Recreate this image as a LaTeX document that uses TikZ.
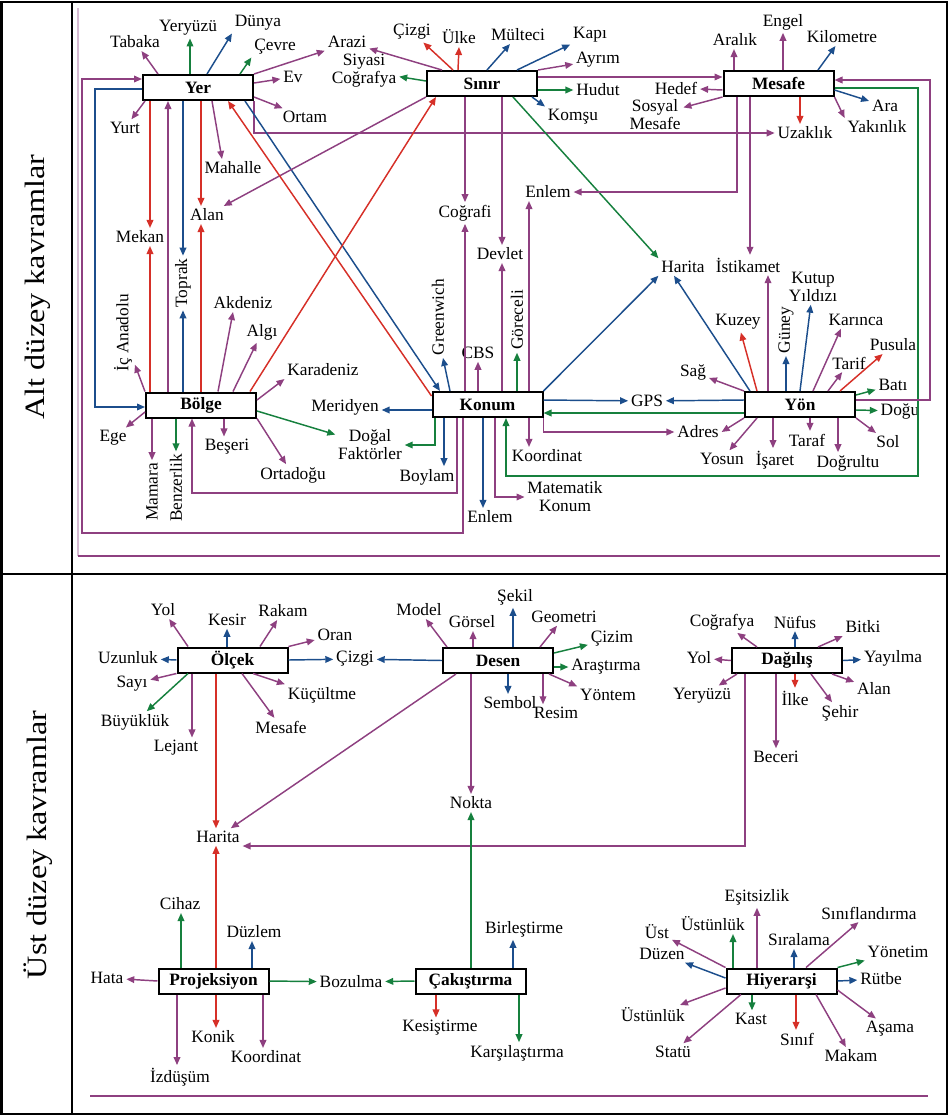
\documentclass[tikz,border=0pt]{standalone}
\usepackage{fontspec}
\setmainfont{Liberation Serif}
\usetikzlibrary{arrows.meta}
\definecolor{cmor}{RGB}{142,64,128}
\definecolor{ckir}{RGB}{214,48,40}
\definecolor{cmavi}{RGB}{28,78,140}
\definecolor{cyes}{RGB}{22,128,62}

\begin{document}
\begin{tikzpicture}[x=0.75pt,y=0.75pt,yscale=-1,xscale=1,
  kutu/.style={draw,line width=1.5pt,minimum width=82.5pt,minimum height=18.75pt,inner sep=0pt,font=\bfseries\fontsize{13}{15}\selectfont},
  etiket/.style={inner sep=2pt,align=center,font=\fontsize{13}{13.5}\selectfont},
  dik/.style={etiket,rotate=90},
  okuc/.style={line width=1.1pt,-{Triangle[length=6pt,width=5pt]}},
  morok/.style={okuc,color=cmor},
  kirok/.style={okuc,color=ckir},
  maviok/.style={okuc,color=cmavi},
  yesok/.style={okuc,color=cyes}]
\useasboundingbox (0,0) rectangle (948,1115);

%Table frame
\draw[line width=1.5pt] (1.5,1.5) rectangle (946.5,1113.5);
\draw[line width=1.5pt] (72,1.5) -- (72,1113.5);
\draw[line width=1.5pt] (1.5,574) -- (946.5,574);
\draw[cmor!35,line width=0.8pt] (78,8) -- (78,556);
\draw[cmor,line width=2.2pt] (78,556) -- (940,556);
\draw[cmor,line width=2.2pt] (90,1096) -- (928,1096);

% Column titles
\node[rotate=90,font=\fontsize{21}{24}\selectfont] (altkavram) at (38,287) {\scalebox{1.15}[1]{Alt düzey kavramlar}};
\node[rotate=90,font=\fontsize{21}{24}\selectfont] (ustkavram) at (38,845) {\scalebox{1.15}[1]{Üst düzey kavramlar}};

%%%%%%%%%%%%%%%% Alt duzey
% Boxes
\node[kutu] (yer) at (198,87.5) {Yer};
\node[kutu] (sinir) at (482,83.5) {Sınır};
\node[kutu] (mesafe) at (778.5,83.5) {Mesafe};
\node[kutu] (bolge) at (201,405) {Bölge};
\node[kutu] (konum) at (487.5,404.5) {Konum};
\node[kutu] (yon) at (800,404.5) {Yön};

% Text Nodes round Yer
\node[etiket] (tabaka) at (135,42) {Tabaka};
\node[etiket] (yeryuzuA) at (188,28) {Yeryüzü};
\node[etiket] (dunya) at (258,23) {Dünya};
\node[etiket] (cevre) at (275,47) {Çevre};
\node[etiket] (arazi) at (347,42) {Arazi};
\node[etiket] (ev) at (293,77) {Ev};
\node[etiket] (ortam) at (305,117) {Ortam};
\node[etiket] (yurt) at (125,128) {Yurt};
\node[etiket] (mahalle) at (233,168) {Mahalle};
\node[etiket] (mekan) at (140,237) {Mekan};
\node[dik] (toprak) at (183,283) {Toprak};
\node[etiket] (alan) at (207,215) {Alan};

% Text Nodes round Sinir
\node[etiket] (cizgiA) at (412,32) {Çizgi};
\node[etiket] (ulke) at (459,37) {Ülke};
\node[etiket] (multeci) at (518,35) {Mülteci};
\node[etiket] (kapi) at (590,35) {Kapı};
\node[etiket] (ayrim) at (598,60) {Ayrım};
\node[etiket] (siyasi) at (364,71) {Siyasi\\Coğrafya};
\node[etiket] (hudut) at (598,90) {Hudut};
\node[etiket] (komsu) at (573,117) {Komşu};
\node[etiket] (cografi) at (465,213) {Coğrafi};
\node[etiket] (devlet) at (500,254) {Devlet};
\node[etiket] (enlemA) at (548,192) {Enlem};
\node[etiket] (haritaA) at (683,267) {Harita};

% Text Nodes round Mesafe
\node[etiket] (aralik) at (735,40) {Aralık};
\node[etiket] (engel) at (783,22) {Engel};
\node[etiket] (kilometre) at (842,37) {Kilometre};
\node[etiket] (hedef) at (676,88) {Hedef};
\node[etiket] (sosyal) at (655,115) {Sosyal\\Mesafe};
\node[etiket] (ara) at (885,106) {Ara};
\node[etiket] (yakinlik) at (877,127) {Yakınlık};
\node[etiket] (uzaklik) at (805,133) {Uzaklık};
\node[etiket] (istikamet) at (748,265) {İstikamet};

% Text Nodes round Bolge
\node[dik] (icanadolu) at (123,333) {İç Anadolu};
\node[etiket] (ege) at (113,438) {Ege};
\node[dik] (mamara) at (152,492) {Mamara};
\node[dik] (benzerlik) at (176,488) {Benzerlik};
\node[etiket] (beseri) at (227,447) {Beşeri};
\node[etiket] (ortadogu) at (293,475) {Ortadoğu};
\node[etiket] (dogal) at (370,445) {Doğal\\Faktörler};
\node[etiket] (karadeniz) at (323,370) {Karadeniz};
\node[etiket] (akdeniz) at (243,303) {Akdeniz};
\node[etiket] (algi) at (262,332) {Algı};

% Text Nodes round Konum
\node[etiket] (meridyen) at (345,407) {Meridyen};
\node[etiket] (boylam) at (427,477) {Boylam};
\node[etiket] (enlemB) at (490,517) {Enlem};
\node[etiket] (matematik) at (565,497) {Matematik\\Konum};
\node[etiket] (koordinatA) at (547,456) {Koordinat};
\node[etiket] (adres) at (698,432) {Adres};
\node[etiket] (gps) at (647,401) {GPS};
\node[dik] (greenwich) at (438,317) {Greenwich};
\node[etiket] (cbs) at (478,353) {CBS};
\node[dik] (goreceli) at (517,320) {Göreceli};

% Text Nodes round Yon
\node[etiket] (kuzey) at (738,322) {Kuzey};
\node[dik] (guney) at (786,330) {Güney};
\node[etiket] (kutup) at (813,287) {Kutup\\Yıldızı};
\node[etiket] (karinca) at (856,320) {Karınca};
\node[etiket] (tarif) at (849,363) {Tarif};
\node[etiket] (pusula) at (893,345) {Pusula};
\node[etiket] (bati) at (893,385) {Batı};
\node[etiket] (dogu) at (900,411) {Doğu};
\node[etiket] (sol) at (888,442) {Sol};
\node[etiket] (dogrultu) at (848,463) {Doğrultu};
\node[etiket] (taraf) at (807,440) {Taraf};
\node[etiket] (isaret) at (775,460) {İşaret};
\node[etiket] (yosun) at (722,459) {Yosun};
\node[etiket] (sag) at (693,372) {Sağ};

%Straight Lines from Yer
\draw[morok] (158,0 |- yer.north) -- (tabaka);
\draw[yesok] (190,0 |- yer.north) -- (190,0 |- yeryuzuA.south);
\draw[maviok] (207,0 |- yer.north) -- (dunya.south west);
\draw[yesok] (240,0 |- yer.north) -- (cevre.south west);
\draw[morok] (yer.north east) -- (arazi.south west);
\draw[morok] (yer.east |- 0,83) -- (ev);
\draw[morok] (yer.east |- 0,97) -- (ortam);
\draw[morok] (145,0 |- yer.south) -- (yurt);
\draw[morok] (212,0 |- yer.south) -- (222,0 |- mahalle.north);
\draw[kirok] (150,0 |- yer.south) -- (150,0 |- mekan.north);
\draw[maviok] (183,0 |- yer.south) -- (183,0 |- toprak.east);
\draw[kirok] (201,0 |- yer.south) -- (201,0 |- alan.north);
\draw[morok] (yer.south east) |- (uzaklik.west);
\draw[maviok] (245,0 |- yer.south) -- (440,0 |- konum.north);
\draw[maviok] (yer.west |- 0,89) -- (95,89) -- (95,407) -- (bolge.west |- 0,407);

%Straight Lines from Sinir
\draw[morok] (442,0 |- sinir.north) -- (arazi);
\draw[kirok] (453,0 |- sinir.north) -- (cizgiA);
\draw[kirok] (458,0 |- sinir.north) -- (459,0 |- ulke.south);
\draw[maviok] (487,0 |- sinir.north) -- (multeci);
\draw[maviok] (517,0 |- sinir.north) -- (kapi);
\draw[morok] (sinir.north east) -- (ayrim);
\draw[yesok] (sinir.west |- 0,81) -- (siyasi);
\draw[yesok] (sinir.east |- 0,90) -- (hudut);
\draw[maviok] (532,0 |- sinir.south) -- (komsu.north west);
\draw[morok] (sinir.east |- 0,77) -- (mesafe.west |- 0,77);
\draw[morok] (sinir.south west) -- (alan);
\draw[morok] (465,0 |- sinir.south) -- (465,0 |- cografi.north);
\draw[morok] (502,0 |- sinir.south) -- (502,0 |- devlet.north);
\draw[yesok] (513,0 |- sinir.south) -- (haritaA.north west);

%Straight Lines from Mesafe
\draw[morok] (734,0 |- mesafe.north) -- (734,0 |- aralik.south);
\draw[morok] (783,0 |- mesafe.north) -- (783,0 |- engel.south);
\draw[maviok] (818,0 |- mesafe.north) -- (kilometre);
\draw[morok] (mesafe.west |- 0,90) -- (hedef);
\draw[morok] (mesafe.south west) -- (sosyal);
\draw[maviok] (mesafe.east |- 0,90) -- (ara);
\draw[morok] (mesafe.south east) -- (yakinlik.north west);
\draw[kirok] (800,0 |- mesafe.south) -- (800,0 |- uzaklik.north);
\draw[morok] (750,0 |- mesafe.south) -- (750,0 |- istikamet.north);
\draw[morok] (737,0 |- mesafe.south) |- (enlemA.east);
\draw[yesok] (mesafe.east |- 0,88) -- (918,88) -- (918,476) -- (506,476) -- (506,0 |- konum.south);

%Straight Lines from Bolge
\draw[morok] (168,0 |- bolge.north) -- (168,0 |- yer.south);
\draw[kirok] (150,0 |- bolge.north) -- (150,0 |- mekan.south);
\draw[maviok] (183,0 |- bolge.north) -- (183,0 |- toprak.west);
\draw[kirok] (201,0 |- bolge.north) -- (201,0 |- alan.south);
\draw[kirok] (250,0 |- bolge.north) -- (436,0 |- sinir.south);
\draw[morok] (bolge.north west) -- (icanadolu);
\draw[morok] (bolge.west |- 0,412) -- (ege);
\draw[morok] (152,0 |- bolge.south) -- (152,0 |- mamara.east);
\draw[yesok] (176,0 |- bolge.south) -- (176,0 |- benzerlik.east);
\draw[morok] (224,0 |- bolge.south) -- (224,0 |- beseri.north);
\draw[morok] (bolge.south east) -- (ortadogu);
\draw[yesok] (bolge.east |- 0,411) -- (dogal);
\draw[morok] (bolge.east |- 0,400) -- (karadeniz.south west);
\draw[morok] (218,0 |- bolge.north) -- (233,0 |- akdeniz.south);
\draw[morok] (233,0 |- bolge.north) -- (algi);

%Straight Lines from Konum
\draw[kirok] (konum.west |- 0,396) -- (228,0 |- yer.south);
\draw[morok] (463,0 |- konum.south) -- (463,533) -- (82,533) -- (82,79) -- (yer.west |- 0,79);
\draw[morok] (457,0 |- konum.south) -- (457,493) -- (192,493) -- (192,0 |- bolge.south);
\draw[maviok] (konum.west |- 0,410) -- (meridyen.east |- 0,410);
\draw[maviok] (444,0 |- konum.south) -- (444,0 |- boylam.north);
\draw[yesok] (435,0 |- konum.south) |- (dogal.east);
\draw[maviok] (483,0 |- konum.south) -- (483,0 |- enlemB.north);
\draw[morok] (495,0 |- konum.south) |- (matematik.west);
\draw[morok] (529,0 |- konum.south) -- (529,0 |- koordinatA.north);
\draw[morok] (konum.south east) |- (adres.west);
\draw[maviok] (konum.east |- 0,400) -- (gps);
\draw[maviok] (konum.north east) -- (haritaA.south west);
\draw[maviok] (450,0 |- konum.north) -- (443,0 |- greenwich.west);
\draw[morok] (478,0 |- konum.north) -- (478,0 |- cbs.south);
\draw[yesok] (517,0 |- konum.north) -- (517,0 |- goreceli.west);
\draw[morok] (465,0 |- konum.north) -- (465,0 |- cografi.south);
\draw[morok] (502,0 |- konum.north) -- (502,0 |- devlet.south);
\draw[morok] (529,0 |- konum.north) -- (529,0 |- enlemA.south);

%Straight Lines from Yon
\draw[maviok] (yon.west |- 0,400) -- (gps);
\draw[yesok] (yon.west |- 0,413) -- (konum.east |- 0,413);
\draw[morok] (yon.east |- 0,400) -- (930,400) -- (930,80) -- (mesafe.east |- 0,80);
\draw[maviok] (750,0 |- yon.north) -- (674,0 |- haritaA.south);
\draw[kirok] (757,0 |- yon.north) -- (kuzey);
\draw[morok] (768,0 |- yon.north) -- (768,0 |- istikamet.south);
\draw[maviok] (786,0 |- yon.north) -- (786,0 |- guney.west);
\draw[maviok] (800,0 |- yon.north) -- (kutup);
\draw[morok] (813,0 |- yon.north) -- (841,0 |- karinca.south);
\draw[morok] (828,0 |- yon.north) -- (tarif);
\draw[kirok] (840,0 |- yon.north) -- (pusula);
\draw[yesok] (yon.east |- 0,395) -- (bati);
\draw[yesok] (yon.east |- 0,410) -- (dogu);
\draw[morok] (yon.south east) -- (sol);
\draw[morok] (838,0 |- yon.south) -- (838,0 |- dogrultu.north);
\draw[morok] (810,0 |- yon.south) -- (810,0 |- taraf.north);
\draw[morok] (773,0 |- yon.south) -- (773,0 |- isaret.north);
\draw[morok] (757,0 |- yon.south) -- (yosun);
\draw[morok] (yon.south west) -- (adres.east);
\draw[morok] (yon.north west) -- (sag);

%%%%%%%%%%%%%%%% Ust duzey
% Boxes
\node[kutu] (olcek) at (232.5,660) {Ölçek};
\node[kutu] (desen) at (498,660.5) {Desen};
\node[kutu] (dagilis) at (787,660.5) {Dağılış};
\node[kutu] (projeksiyon) at (213.5,981) {Projeksiyon};
\node[kutu] (cakistirma) at (470.5,981) {Çakıştırma};
\node[kutu] (hiyerarsi) at (781.5,981) {Hiyerarşi};

% Text Nodes round Olcek
\node[etiket] (yolA) at (163,610) {Yol};
\node[etiket] (kesir) at (227,620) {Kesir};
\node[etiket] (rakam) at (283,611) {Rakam};
\node[etiket] (oran) at (335,635) {Oran};
\node[etiket] (uzunluk) at (128,658) {Uzunluk};
\node[etiket] (sayi) at (132,684) {Sayı};
\node[etiket] (buyukluk) at (135,722) {Büyüklük};
\node[etiket] (lejant) at (176,748) {Lejant};
\node[etiket] (kucultme) at (322,695) {Küçültme};
\node[etiket] (mesafeB) at (281,727) {Mesafe};
\node[etiket] (cizgiB) at (355,659) {Çizgi};
\node[etiket] (haritaB) at (218,837) {Harita};

% Text Nodes round Desen
\node[etiket] (model) at (419,610) {Model};
\node[etiket] (gorsel) at (472,622) {Görsel};
\node[etiket] (sekil) at (515,597) {Şekil};
\node[etiket] (geometri) at (564,617) {Geometri};
\node[etiket] (cizim) at (612,639) {Çizim};
\node[etiket] (arastirma) at (606,667) {Araştırma};
\node[etiket] (yontem) at (608,695) {Yöntem};
\node[etiket] (sembol) at (510,703) {Sembol};
\node[etiket] (resim) at (556,713) {Resim};
\node[etiket] (nokta) at (471,803) {Nokta};

% Text Nodes round Dagilis
\node[etiket] (cografya) at (722,622) {Coğrafya};
\node[etiket] (nufus) at (795,622) {Nüfus};
\node[etiket] (bitki) at (863,627) {Bitki};
\node[etiket] (yolB) at (699,658) {Yol};
\node[etiket] (yayilma) at (893,658) {Yayılma};
\node[etiket] (yeryuzuB) at (702,696) {Yeryüzü};
\node[etiket] (ilke) at (795,698) {İlke};
\node[etiket] (sehir) at (840,713) {Şehir};
\node[etiket] (alanB) at (874,689) {Alan};
\node[etiket] (beceri) at (776,757) {Beceri};

% Text Nodes round Projeksiyon
\node[etiket] (hata) at (107,978) {Hata};
\node[etiket] (cihaz) at (180,904) {Cihaz};
\node[etiket] (duzlem) at (254,932) {Düzlem};
\node[etiket] (bozulma) at (351,982) {Bozulma};
\node[etiket] (konik) at (213,1037) {Konik};
\node[etiket] (koordinatB) at (266,1057) {Koordinat};
\node[etiket] (izdusum) at (180,1077) {İzdüşüm};

% Text Nodes round Cakistirma
\node[etiket] (birlestirme) at (524,929) {Birleştirme};
\node[etiket] (kesistirme) at (440,1028) {Kesiştirme};
\node[etiket] (karsilastirma) at (517,1053) {Karşılaştırma};

% Text Nodes round Hiyerarsi
\node[etiket] (esitsizlik) at (757,897) {Eşitsizlik};
\node[etiket] (ustunlukA) at (713,924) {Üstünlük};
\node[etiket] (ust) at (657,932) {Üst};
\node[etiket] (duzen) at (662,954) {Düzen};
\node[etiket] (siralama) at (799,940) {Sıralama};
\node[etiket] (siniflandirma) at (869,913) {Sınıflandırma};
\node[etiket] (yonetim) at (898,952) {Yönetim};
\node[etiket] (rutbe) at (881,979) {Rütbe};
\node[etiket] (asama) at (890,1029) {Aşama};
\node[etiket] (makam) at (851,1056) {Makam};
\node[etiket] (sinif) at (797,1039) {Sınıf};
\node[etiket] (kast) at (751,1019) {Kast};
\node[etiket] (statu) at (673,1052) {Statü};
\node[etiket] (ustunlukB) at (653,1015) {Üstünlük};

%Straight Lines from Olcek
\draw[morok] (188,0 |- olcek.north) -- (yolA);
\draw[maviok] (227,0 |- olcek.north) -- (227,0 |- kesir.south);
\draw[morok] (260,0 |- olcek.north) -- (rakam);
\draw[morok] (olcek.north east) -- (oran);
\draw[maviok] (olcek.west) -- (uzunluk);
\draw[morok] (olcek.south west) -- (sayi);
\draw[yesok] (188,0 |- olcek.south) -- (buyukluk);
\draw[morok] (192,0 |- olcek.south) -- (192,0 |- lejant.north);
\draw[morok] (253,0 |- olcek.south) -- (kucultme.north west);
\draw[morok] (242,0 |- olcek.south) -- (mesafeB);
\draw[maviok] (olcek.east) -- (cizgiB);
\draw[kirok] (216,0 |- olcek.south) -- (216,0 |- haritaB.north);

%Straight Lines from Desen
\draw[maviok] (desen.west) -- (cizgiB);
\draw[morok] (456,0 |- desen.south) -- (haritaB);
\draw[morok] (447,0 |- desen.north) -- (model);
\draw[morok] (473,0 |- desen.north) -- (473,0 |- gorsel.south);
\draw[maviok] (513,0 |- desen.north) -- (513,0 |- sekil.south);
\draw[morok] (540,0 |- desen.north) -- (geometri);
\draw[yesok] (desen.east |- 0,653) -- (cizim);
\draw[yesok] (desen.east |- 0,667) -- (arastirma);
\draw[morok] (549,0 |- desen.south) -- (yontem.north west);
\draw[maviok] (508,0 |- desen.south) -- (508,0 |- sembol.north);
\draw[morok] (543,0 |- desen.south) -- (543,0 |- resim.north);
\draw[morok] (471,0 |- desen.south) -- (471,0 |- nokta.north);

%Straight Lines from Dagilis
\draw[morok] (757,0 |- dagilis.north) -- (cografya);
\draw[maviok] (795,0 |- dagilis.north) -- (795,0 |- nufus.south);
\draw[morok] (818,0 |- dagilis.north) -- (bitki);
\draw[morok] (dagilis.west) -- (yolB);
\draw[maviok] (dagilis.east) -- (yayilma);
\draw[morok] (737,0 |- dagilis.south) -- (yeryuzuB);
\draw[kirok] (795,0 |- dagilis.south) -- (795,0 |- ilke.north);
\draw[morok] (811,0 |- dagilis.south) -- (sehir);
\draw[morok] (832,0 |- dagilis.south) -- (alanB);
\draw[morok] (776,0 |- dagilis.south) -- (776,0 |- beceri.north);
\draw[morok] (745,0 |- dagilis.south) -- (745,846) -- (haritaB.east |- 0,846);

%Straight Lines from Projeksiyon
\draw[morok] (projeksiyon.west) -- (hata);
\draw[yesok] (181,0 |- projeksiyon.north) -- (181,0 |- cihaz.south);
\draw[maviok] (252,0 |- projeksiyon.north) -- (252,0 |- duzlem.south);
\draw[kirok] (216,0 |- projeksiyon.north) -- (216,0 |- haritaB.south);
\draw[yesok] (projeksiyon.east) -- (bozulma);
\draw[kirok] (216,0 |- projeksiyon.south) -- (216,0 |- konik.north);
\draw[morok] (263,0 |- projeksiyon.south) -- (263,0 |- koordinatB.north);
\draw[morok] (177,0 |- projeksiyon.south) -- (177,0 |- izdusum.north);

%Straight Lines from Cakistirma
\draw[yesok] (cakistirma.west) -- (bozulma);
\draw[yesok] (471,0 |- cakistirma.north) -- (471,0 |- nokta.south);
\draw[maviok] (513,0 |- cakistirma.north) -- (513,0 |- birlestirme.south);
\draw[kirok] (436,0 |- cakistirma.south) -- (436,0 |- kesistirme.north);
\draw[yesok] (519,0 |- cakistirma.south) -- (519,0 |- karsilastirma.north);

%Straight Lines from Hiyerarsi
\draw[morok] (757,0 |- hiyerarsi.north) -- (757,0 |- esitsizlik.south);
\draw[yesok] (733,0 |- hiyerarsi.north) -- (733,0 |- ustunlukA.south);
\draw[morok] (hiyerarsi.north west) -- (ust);
\draw[maviok] (hiyerarsi.west |- 0,978) -- (duzen);
\draw[maviok] (794,0 |- hiyerarsi.north) -- (794,0 |- siralama.south);
\draw[morok] (806,0 |- hiyerarsi.north) -- (siniflandirma);
\draw[yesok] (hiyerarsi.north east) -- (yonetim);
\draw[maviok] (hiyerarsi.east) -- (rutbe);
\draw[morok] (hiyerarsi.east |- 0,990) -- (asama);
\draw[morok] (816,0 |- hiyerarsi.south) -- (makam);
\draw[kirok] (796,0 |- hiyerarsi.south) -- (796,0 |- sinif.north);
\draw[yesok] (752,0 |- hiyerarsi.south) -- (752,0 |- kast.north);
\draw[morok] (741,0 |- hiyerarsi.south) -- (statu);
\draw[morok] (hiyerarsi.west |- 0,988) -- (ustunlukB);

\end{tikzpicture}
\end{document}
